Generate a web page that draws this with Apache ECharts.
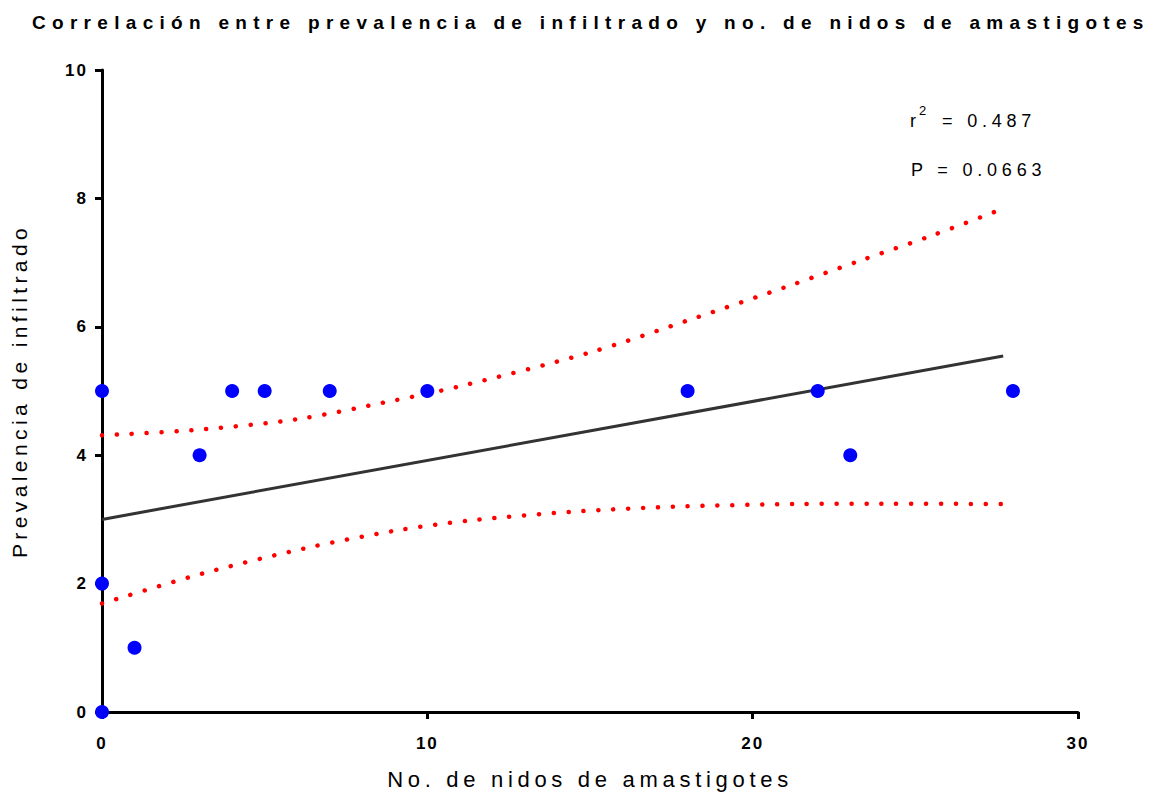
<!DOCTYPE html>
<html>
<head>
<meta charset="utf-8">
<script src="https://cdn.jsdelivr.net/npm/echarts@6/dist/echarts.min.js"></script>
<style>
  html, body { margin: 0; padding: 0; background: #ffffff; }
  #chart { width: 1155px; height: 796px; }
  /* wide tracking used throughout the figure, keyed on each text's font size */
  #chart text[style*="19px"] { letter-spacing: 6.3px; }
  #chart text[style*="22px"] { letter-spacing: 4.7px; }
  #chart text[style*="21px"] { letter-spacing: 4.4px; }
  #chart text[style*="17px"] { letter-spacing: 2px; }
  #chart text[style*="18px"] { letter-spacing: 4.8px; }
</style>
</head>
<body>
<div id="chart"></div>
<script>
// Observations: number of amastigote nests vs. infiltrate prevalence score
const nidos        = [0, 0, 0, 1, 3, 4, 5, 7, 10, 18, 22, 23, 28];
const prevalencia  = [5, 2, 0, 1, 4, 5, 5, 5, 5, 5, 5, 4, 5];

// Fitted regression line (start and end)
const fitLine = [[0, 3.0], [27.7, 5.545]];

// 95% confidence band, upper and lower curves
const upperBand = [[0, 4.31], [2.81, 4.39], [5.98, 4.56], [8.96, 4.85], [10.97, 5.07],
                   [15.0, 5.60], [18.07, 6.11], [21.13, 6.64], [23.3, 7.03], [25.5, 7.42], [27.7, 7.84]];
const lowerBand = [[0, 1.69], [3.11, 2.16], [6.24, 2.55], [8.96, 2.82], [11.26, 2.98],
                   [14.49, 3.12], [17.72, 3.20], [21.4, 3.24], [23.7, 3.245], [27.7, 3.24]];

// Regression statistics shown in the corner
const rSquared = '0.487';
const pValue = '0.0663';

const FONT = '"Liberation Sans", Arial, Helvetica, sans-serif';

const points = nidos.map((x, i) => [x, prevalencia[i]]);

const chart = echarts.init(document.getElementById('chart'), null, { renderer: 'svg' });

const axisCommon = {
  type: 'value',
  splitLine: { show: false },
  axisLine: { show: true, onZero: false, lineStyle: { color: '#000', width: 3 } },
  axisTick: { show: true, inside: false, length: 7, lineStyle: { color: '#000', width: 3 } },
  axisLabel: { color: '#000', fontWeight: 'bold', fontSize: 17, fontFamily: FONT },
  nameLocation: 'middle'
};

chart.setOption({
  backgroundColor: '#ffffff',
  animation: false,
  title: {
    text: 'Correlación entre prevalencia de infiltrado y no. de nidos de amastigotes',
    left: 32,
    top: 13,
    padding: 0,
    textStyle: { color: '#000', fontSize: 19, fontWeight: 'bold', fontFamily: FONT }
  },
  grid: { left: 102, right: 77, top: 70, bottom: 84 },
  xAxis: Object.assign({}, axisCommon, {
    min: 0, max: 30, interval: 10,
    name: 'No. de nidos de amastigotes',
    nameGap: 56,
    nameTextStyle: { color: '#000', fontSize: 22, fontFamily: FONT },
    axisLabel: Object.assign({}, axisCommon.axisLabel, { margin: 23 })
  }),
  yAxis: Object.assign({}, axisCommon, {
    min: 0, max: 10, interval: 2,
    name: 'Prevalencia de infiltrado',
    nameGap: 72,
    nameTextStyle: { color: '#000', fontSize: 21, fontFamily: FONT },
    axisLabel: Object.assign({}, axisCommon.axisLabel, { margin: 14 })
  }),
  graphic: [
    {
      type: 'text', left: 910, top: 104, z: 10,
      style: {
        text: '{b|r}{s|2}{b| = ' + rSquared + '}',
        rich: {
          b: { fontSize: 18, fontFamily: FONT, fill: '#000', lineHeight: 26, verticalAlign: 'bottom' },
          s: { fontSize: 13, fontFamily: FONT, fill: '#000', lineHeight: 26, verticalAlign: 'top', padding: [0, 6, 0, 3] }
        }
      }
    },
    {
      type: 'text', left: 911, top: 161, z: 10,
      style: { text: 'P = ' + pValue, fontSize: 18, fontFamily: FONT, fill: '#000' }
    }
  ],
  series: [
    {
      type: 'line', data: upperBand, smooth: 0.3, symbol: 'none', z: 3,
      lineStyle: { color: '#ff0000', width: 4.5, type: [0.1, 14.8], cap: 'round' }
    },
    {
      type: 'line', data: lowerBand, smooth: 0.3, symbol: 'none', z: 3,
      lineStyle: { color: '#ff0000', width: 4.5, type: [0.1, 14.8], cap: 'round' }
    },
    {
      type: 'line', data: fitLine, symbol: 'none', z: 4,
      lineStyle: { color: '#333333', width: 3 }
    },
    {
      type: 'scatter', data: points, symbol: 'circle', symbolSize: 14, clip: false, z: 5,
      itemStyle: { color: '#0000ff', opacity: 1 }
    }
  ]
});
</script>
</body>
</html>
